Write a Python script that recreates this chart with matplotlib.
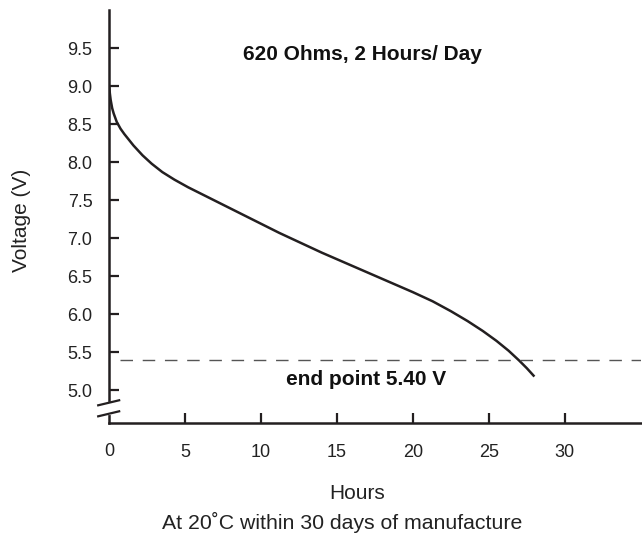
import matplotlib
matplotlib.use('Agg')
import matplotlib.pyplot as plt

plt.rcParams['font.family'] = ['Liberation Sans', 'DejaVu Sans']

# discharge curve
hours = [0.0, 0.05, 0.1, 0.2, 0.3, 0.5, 0.75, 1.0, 1.6, 2.2, 2.8, 3.5, 4.3, 5.2, 6.2, 7.3, 8.5, 9.8,
         11.2, 12.6, 14.0, 15.5, 17.0, 18.5, 20.0, 21.3, 22.5, 23.6, 24.6, 25.5,
         26.3, 27.0, 27.5, 28.0]
volts = [9.00, 8.90, 8.82, 8.71, 8.64, 8.53, 8.44, 8.37, 8.22, 8.09, 7.98, 7.87, 7.77, 7.67, 7.57, 7.46, 7.34, 7.21,
         7.07, 6.94, 6.81, 6.68, 6.55, 6.42, 6.29, 6.17, 6.04, 5.91, 5.78, 5.65,
         5.52, 5.39, 5.29, 5.18]
end_point = 5.40
x_ticks = [5, 10, 15, 20, 25, 30]
y_ticks = [5.0, 5.5, 6.0, 6.5, 7.0, 7.5, 8.0, 8.5, 9.0, 9.5]

ink = '#231f20'
txt = '#222222'

fig = plt.figure(figsize=(6.42, 5.34), dpi=100)
ax = fig.add_axes([0.170, 0.208, 0.828, 0.773])

ax.plot(hours, volts, color=ink, lw=1.8, solid_capstyle='butt', solid_joinstyle='round')
ax.axhline(end_point, xmin=0.02, color='#555555', lw=1.0, dashes=(9, 7))

ax.set_xlim(0, 35)
ax.set_ylim(4.57, 10.0)
ax.set_xticks(x_ticks)
ax.set_yticks(y_ticks)
ax.set_yticklabels(['%.1f' % v for v in y_ticks])

for side in ['top', 'right']:
    ax.spines[side].set_visible(False)
for side in ['left', 'bottom']:
    ax.spines[side].set_linewidth(1.8)
    ax.spines[side].set_color(ink)

ax.tick_params(direction='in', length=7.5, width=1.6, color=ink, labelsize=13, labelcolor=txt)
ax.tick_params(axis='x', pad=15)
ax.tick_params(axis='y', pad=12)

# "0" sits under the origin without a tick
ax.text(0, 4.57 - 0.27, '0', ha='center', va='top', fontsize=13, color=txt)

# axis break on the voltage axis
ax.plot([0, 0], [4.70, 4.82], color='white', lw=3, clip_on=False, zorder=5)
for yb in [4.835, 4.69]:
    ax.plot([-0.72, 0.66], [yb - 0.033, yb + 0.033], color=ink, lw=1.6, clip_on=False, zorder=6)

ax.text(16.7, 9.41, '620 Ohms, 2 Hours/ Day', ha='center', va='center', fontsize=15, fontweight='bold', color='#111111')
ax.text(16.9, 5.14, 'end point 5.40 V', ha='center', va='center', fontsize=15, fontweight='bold', color='#111111')

fig.text(0.034, 0.588, 'Voltage (V)', rotation=90, ha='center', va='center', fontsize=15, color=txt)
fig.text(0.556, 0.075, 'Hours', ha='center', va='center', fontsize=15, color=txt)
fig.text(0.533, 0.0225, 'At 20\u02daC within 30 days of manufacture', ha='center', va='center', fontsize=15.3, color=txt)

fig.savefig('out.png', dpi=100)
